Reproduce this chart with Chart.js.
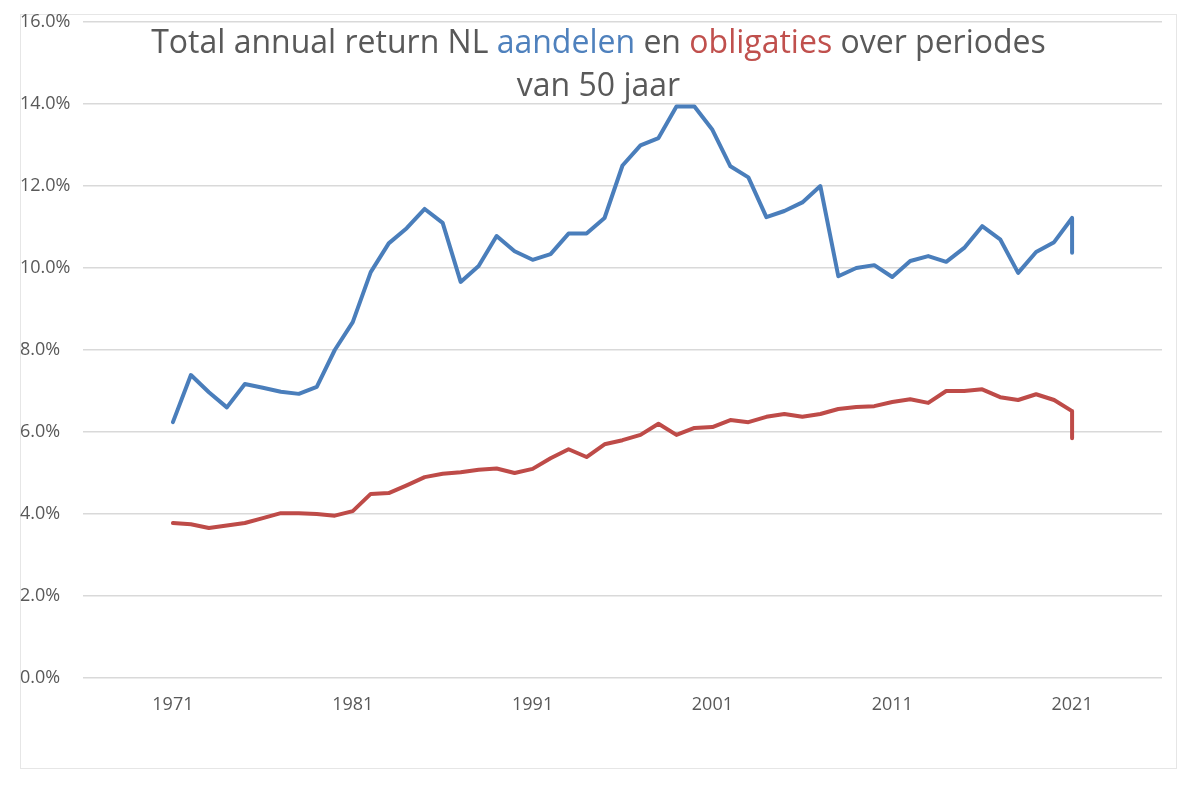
<!DOCTYPE html>
<html>
<head>
<meta charset="utf-8">
<script src="https://cdn.jsdelivr.net/npm/chart.js@4.4.0/dist/chart.umd.min.js"></script>
<style>
  html, body { margin: 0; padding: 0; background: #ffffff; }
  #wrap { position: relative; width: 1200px; height: 789px; overflow: hidden; }
  #frame { position: absolute; left: 20px; top: 14px; width: 1157px; height: 755px; border: 1px solid #e6e6e6; box-sizing: border-box; }
  #chart { position: absolute; left: 0; top: 0; }
  #title { position: absolute; left: 0; top: 19px; width: 1197px; text-align: center;
           font-family: "Open Sans", sans-serif; font-size: 32px; line-height: 43px; color: #595959; }
  .blue { color: #4f81bd; }
  .red { color: #c0504d; }
</style>
</head>
<body>
<div id="wrap">
  <div id="frame"></div>
  <canvas id="chart" width="1200" height="789"></canvas>
  <div id="title">Total annual return NL <span class="blue">aandelen</span> en <span class="red">obligaties</span> over periodes<br>van 50 jaar</div>
</div>
<script>
const years = [1971,1972,1973,1974,1975,1976,1977,1978,1979,1980,
               1981,1982,1983,1984,1985,1986,1987,1988,1989,1990,
               1991,1992,1993,1994,1995,1996,1997,1998,1999,2000,
               2001,2002,2003,2004,2005,2006,2007,2008,2009,2010,
               2011,2012,2013,2014,2015,2016,2017,2018,2019,2020,2021,2021];
const aandelen = [6.24,7.39,6.97,6.60,7.17,7.08,6.98,6.93,7.10,8.00,
                  8.68,9.90,10.60,10.97,11.44,11.10,9.66,10.05,10.78,10.41,
                  10.20,10.34,10.84,10.84,11.22,12.50,12.99,13.17,13.94,13.94,
                  13.37,12.48,12.21,11.24,11.39,11.60,12.00,9.80,10.00,10.07,
                  9.78,10.17,10.29,10.15,10.49,11.02,10.70,9.88,10.39,10.63,11.22,10.37];
const obligaties = [3.78,3.75,3.66,3.72,3.78,3.90,4.02,4.02,4.00,3.96,
                    4.07,4.49,4.51,4.70,4.90,4.98,5.02,5.08,5.11,5.00,
                    5.10,5.36,5.58,5.39,5.70,5.80,5.93,6.20,5.93,6.10,
                    6.12,6.29,6.24,6.37,6.44,6.37,6.44,6.56,6.61,6.63,
                    6.73,6.80,6.71,7.00,7.00,7.04,6.85,6.78,6.92,6.78,6.51,5.85];
const xTickLabels = [1971,1981,1991,2001,2011,2021];
const yTicks = [0,2,4,6,8,10,12,14,16];

const toPoints = vals => vals.map((v, i) => ({ x: years[i], y: v }));
const tickFont = { family: "'Open Sans', sans-serif", size: 18 };

new Chart(document.getElementById('chart'), {
  type: 'line',
  data: {
    datasets: [
      { label: 'aandelen', data: toPoints(aandelen), borderColor: '#4a7ebb', borderWidth: 4,
        pointRadius: 0, tension: 0, borderJoinStyle: 'round', borderCapStyle: 'round' },
      { label: 'obligaties', data: toPoints(obligaties), borderColor: '#be4b48', borderWidth: 4,
        pointRadius: 0, tension: 0, borderJoinStyle: 'round', borderCapStyle: 'round' }
    ]
  },
  options: {
    responsive: false,
    animation: false,
    layout: { padding: { left: 20, top: 22, right: 38, bottom: 0 } },
    plugins: { legend: { display: false }, title: { display: false }, tooltip: { enabled: false } },
    scales: {
      x: {
        type: 'linear', min: 1966, max: 2026,
        grid: { display: false },
        border: { display: false },
        afterBuildTicks: s => { s.ticks = xTickLabels.map(v => ({ value: v })); },
        afterFit: s => { s.height = 111; },
        ticks: { padding: 8, color: '#595959', font: tickFont, maxRotation: 0, autoSkip: false,
                 callback: v => String(v) }
      },
      y: {
        min: 0, max: 16,
        afterBuildTicks: s => { s.ticks = yTicks.map(v => ({ value: v })); },
        afterFit: s => { s.width = 63; },
        grid: { color: '#d9d9d9', lineWidth: 1.5, drawTicks: false },
        border: { display: false },
        ticks: { crossAlign: 'far', padding: 0, color: '#595959', font: tickFont,
                 callback: v => v.toFixed(1) + '%' }
      }
    }
  }
});
</script>
</body>
</html>
